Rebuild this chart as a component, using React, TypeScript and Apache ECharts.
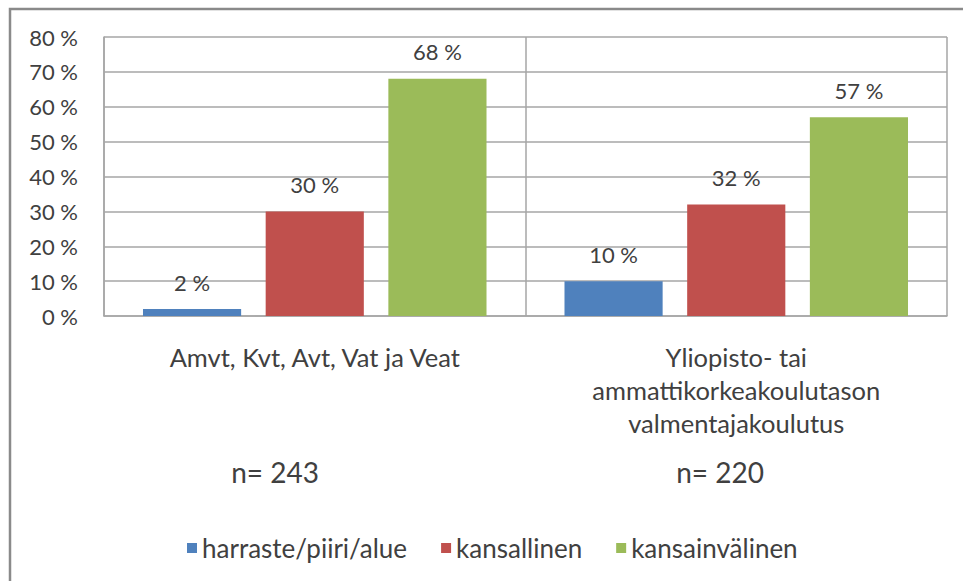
import React, { useEffect, useRef } from "react";
import * as echarts from "echarts";

const categories = [
  "Amvt, Kvt, Avt, Vat ja Veat",
  "Yliopisto- tai\nammattikorkeakoulutason\nvalmentajakoulutus",
];
const seriesNames = ["harraste/piiri/alue", "kansallinen", "kansainvälinen"];
const harraste = [2, 10];
const kansallinen = [30, 32];
const kansainvalinen = [68, 57];
const colors = ["#4F81BD", "#C0504D", "#9BBB59"];
const nLabels = ["n= 243", "n= 220"];

const FONT = "Lato";
const TXT = "#404040";

export default function App() {
  const ref = useRef<HTMLDivElement>(null);
  useEffect(() => {
    document.body.style.margin = "0";
    const chart = echarts.init(ref.current!, null, { renderer: "svg" });
    const values = [harraste, kansallinen, kansainvalinen];
    chart.setOption({
      animation: false,
      backgroundColor: "#ffffff",
      textStyle: { fontFamily: FONT },
      grid: { left: 104, top: 37, right: 16, bottom: 265, containLabel: false },
      legend: {
        left: 182,
        top: 530,
        itemWidth: 10,
        itemHeight: 10,
        itemGap: 34,
        icon: "rect",
        textStyle: { fontFamily: FONT, fontSize: 26, color: TXT },
        data: seriesNames,
      },
      xAxis: {
        type: "category",
        data: categories,
        axisLine: { show: true, lineStyle: { color: "#a6a6a6", width: 1.5 } },
        axisTick: { show: false },
        splitLine: { show: true, lineStyle: { color: "#a6a6a6", width: 1.5 } },
        axisLabel: {
          interval: 0,
          margin: 24,
          fontFamily: FONT,
          fontSize: 25.5,
          lineHeight: 33,
          color: TXT,
        },
      },
      yAxis: {
        type: "value",
        min: 0,
        max: 80,
        interval: 10,
        axisLine: { show: true, lineStyle: { color: "#a6a6a6", width: 1.5 } },
        axisTick: { show: false },
        splitLine: { show: true, lineStyle: { color: "#a6a6a6", width: 1.5 } },
        axisLabel: {
          formatter: "{value} %",
          margin: 26,
          fontFamily: FONT,
          fontSize: 22,
          color: TXT,
        },
      },
      series: seriesNames.map((name, i) => ({
        name,
        type: "bar",
        data: values[i],
        barGap: "25%",
        barCategoryGap: "18.5%",
        itemStyle: { color: colors[i] },
        label: {
          show: true,
          position: "top",
          distance: 16,
          formatter: "{c} %",
          fontFamily: FONT,
          fontSize: 22,
          color: TXT,
        },
      })),
      graphic: [
        {
          type: "rect",
          shape: { x: 10, y: 9, width: 1000, height: 1000 },
          style: { fill: "none", stroke: "#8a8a8a", lineWidth: 2.5 },
          silent: true,
        },
        {
          type: "text",
          x: 275,
          y: 472,
          style: {
            text: nLabels[0],
            font: `28px ${FONT}`,
            fill: TXT,
            textAlign: "center",
            textVerticalAlign: "middle",
          },
        },
        {
          type: "text",
          x: 720,
          y: 472,
          style: {
            text: nLabels[1],
            font: `28px ${FONT}`,
            fill: TXT,
            textAlign: "center",
            textVerticalAlign: "middle",
          },
        },
      ],
    });
    return () => chart.dispose();
  }, []);
  return <div ref={ref} style={{ width: 963, height: 581 }} />;
}
